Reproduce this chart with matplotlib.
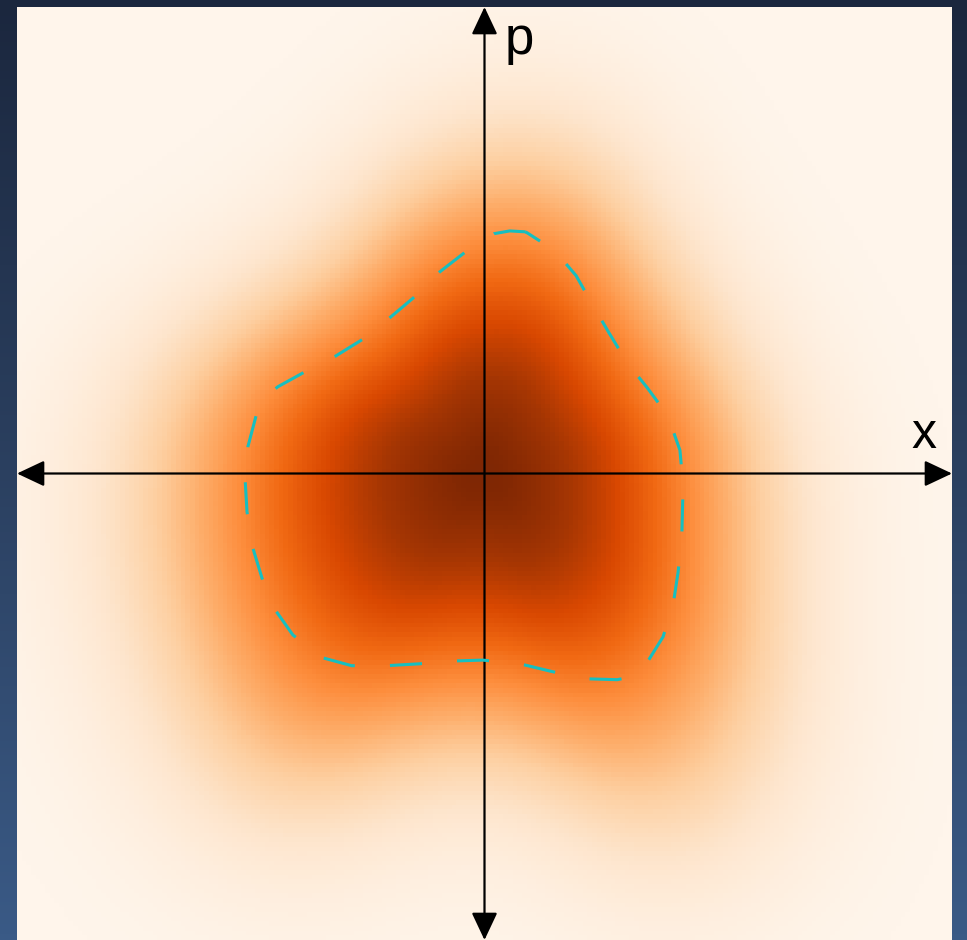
import numpy as np
import matplotlib
matplotlib.use("Agg")
import matplotlib.pyplot as plt
from matplotlib.colors import LinearSegmentedColormap
from matplotlib.patches import FancyArrowPatch

# density: radius (in x, p units) where it drops to half, by direction (deg)
shape_angle = [0, 15, 30, 45, 60, 75, 85, 95, 105, 120, 135, 150, 165, 180,
               195, 210, 220, 230, 245, 260, 270, 285, 300, 310, 320, 335, 350]
half_radius = [2.12, 2.06, 1.96, 1.99, 2.20, 2.52, 2.62, 2.38, 2.16, 1.96, 1.95, 2.20, 2.51, 2.56,
               2.59, 2.65, 2.68, 2.61, 2.28, 2.04, 2.00, 2.15, 2.57, 2.67, 2.56, 2.30, 2.16]
# -log(density) = lin * rho + cub * rho**3, rho = r / half radius
lin = 0.33
cub = np.log(2) - 0.33
soft = 0.12

# faint outer lobes below the axis: x, p, sigma, weight
tail_x = [-2.0, 1.9]
tail_p = [-3.1, -3.4]
tail_sigma = [1.1, 1.1]
tail_weight = [0.11, 0.11]

# dashed boundary curve (x, p), closed
edge_x = [0.44, 0.27, 0.10, -0.21, -0.48, -0.74, -1.00, -1.30, -1.59, -1.92, -2.21, -2.38, -2.44,
          -2.53, -2.56, -2.54, -2.48, -2.38, -2.24, -2.05, -1.75, -1.42, -1.05, -0.70, -0.34,
          -0.02, 0.38, 0.71, 1.07, 1.42, 1.61, 1.73, 1.91, 2.02, 2.07, 2.11, 2.12, 2.11, 2.09,
          1.96, 1.74, 1.53, 1.33, 1.16, 0.98, 0.75, 0.44]
edge_p = [2.59, 2.60, 2.57, 2.37, 2.16, 1.90, 1.68, 1.44, 1.26, 1.09, 0.93, 0.79, 0.63,
          0.29, -0.07, -0.41, -0.79, -1.12, -1.46, -1.73, -1.97, -2.06, -2.06, -2.04, -2.01,
          -2.00, -2.04, -2.12, -2.20, -2.21, -2.17, -2.04, -1.75, -1.39, -1.06, -0.69, -0.28, 0.03, 0.25,
          0.62, 0.92, 1.18, 1.51, 1.80, 2.12, 2.39, 2.59]

L = 5.0
n = 200

xs = np.linspace(-L, L, n)
X, P = np.meshgrid(xs, xs)
R = np.hypot(X, P)
T = np.arctan2(P, X)

# smooth half radius vs. direction (von Mises weighting of the table)
ang = np.deg2rad(shape_angle)
k = np.exp(18 * np.cos(T[..., None] - ang))
r_half = (k * np.array(half_radius)).sum(-1) / k.sum(-1)

rho = R / r_half
W = np.exp(-lin * (np.sqrt(rho ** 2 + soft ** 2) - soft) - cub * rho ** 3)
for cx, cp, s, w in zip(tail_x, tail_p, tail_sigma, tail_weight):
    W += w * np.exp(-((X - cx) ** 2 + (P - cp) ** 2) / (2 * s ** 2))

fig = plt.figure(figsize=(9.67, 9.40), dpi=100)

# background gradient
bg = fig.add_axes([0, 0, 1, 1])
bg_cmap = LinearSegmentedColormap.from_list("bg", ["#1b273e", "#2b4060", "#3a5a86"])
bg.imshow(np.linspace(0, 1, 256).reshape(-1, 1), cmap=bg_cmap, aspect="auto",
          extent=(0, 1, 0, 1), origin="upper", interpolation="bilinear")
bg.set_axis_off()

ax = fig.add_axes([17 / 967, 0, 935 / 967, 933 / 940])
ax.imshow(W, cmap="Oranges", vmin=0, vmax=W.max(), origin="lower",
          extent=(-L, L, -L, L), interpolation="nearest", aspect="auto")
ax.plot(edge_x, edge_p, color="#17bfc0", lw=2.2, linestyle=(0, (10.5, 11.5)))
ax.set_xlim(-L, L)
ax.set_ylim(-L, L)
ax.set_axis_off()

for a, b in [((-L, 0), (L, 0)), ((0, -L), (0, L))]:
    arr = FancyArrowPatch(a, b, arrowstyle="<|-|>,head_length=0.85,head_width=0.4",
                          mutation_scale=20, lw=1.6, color="black",
                          shrinkA=0, shrinkB=0, clip_on=False)
    ax.add_patch(arr)

ax.text(0.22, 4.50, "p", fontsize=38, family="Liberation Sans", ha="left", va="baseline")
ax.text(4.57, 0.27, "x", fontsize=36, family="Liberation Sans", ha="left", va="baseline")

fig.savefig("out.png", dpi=100)
